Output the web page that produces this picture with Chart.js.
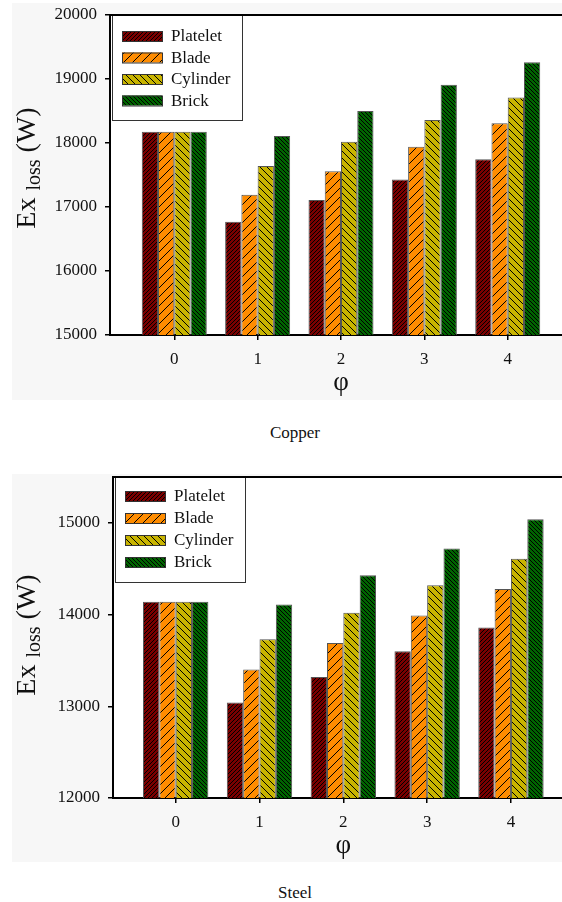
<!DOCTYPE html>
<html>
<head>
<meta charset="utf-8">
<script src="https://cdn.jsdelivr.net/npm/chart.js@4.4.1/dist/chart.umd.min.js"></script>
<style>
  body { margin: 0; background: #fff; width: 562px; height: 902px; position: relative; overflow: hidden; font-family: "Liberation Serif", serif; }
  .panel { position: absolute; left: 12px; width: 550px; background: #f7f7f7; }
  .cap { position: absolute; left: 0; width: 590px; text-align: center; font-size: 17px; color: #111; line-height: 20px; }
</style>
</head>
<body>
<div class="panel" style="top:3px;height:397px"><canvas id="copper" width="550" height="397"></canvas></div>
<div class="cap" style="top:423px">Copper</div>
<div class="panel" style="top:474px;height:388px"><canvas id="steel" width="550" height="388"></canvas></div>
<div class="cap" style="top:883px">Steel</div>
<script>
// values
const phi = [0, 1, 2, 3, 4];
const names = ['Platelet', 'Blade', 'Cylinder', 'Brick'];

const copperPlatelet = [18175, 16770, 17110, 17430, 17745];
const copperBlade    = [18175, 17190, 17560, 17940, 18310];
const copperCylinder = [18175, 17640, 18020, 18360, 18710];
const copperBrick    = [18175, 18110, 18500, 18910, 19260];
const copperTicks    = [15000, 16000, 17000, 18000, 19000, 20000];

const steelPlatelet  = [14140, 13040, 13320, 13600, 13860];
const steelBlade     = [14140, 13400, 13690, 13990, 14280];
const steelCylinder  = [14140, 13730, 14020, 14320, 14610];
const steelBrick     = [14140, 14110, 14430, 14720, 15040];
const steelTicks     = [12000, 13000, 14000, 15000];

const serif = '"Liberation Serif", "Times New Roman", serif';

// hatched fills, '/' when dir > 0, '\' otherwise
function hatch(bg, gap, dir) {
  const c = document.createElement('canvas');
  c.width = gap; c.height = gap;
  const g = c.getContext('2d');
  g.fillStyle = bg;
  g.fillRect(0, 0, gap, gap);
  g.strokeStyle = '#000';
  g.lineWidth = 1;
  g.beginPath();
  if (dir > 0) {
    g.moveTo(-1, gap + 1); g.lineTo(gap + 1, -1);
    g.moveTo(-1, 1); g.lineTo(1, -1);
    g.moveTo(gap - 1, gap + 1); g.lineTo(gap + 1, gap - 1);
  } else {
    g.moveTo(-1, -1); g.lineTo(gap + 1, gap + 1);
    g.moveTo(gap - 1, -1); g.lineTo(gap + 1, 1);
    g.moveTo(-1, gap - 1); g.lineTo(1, gap + 1);
  }
  g.stroke();
  return g.createPattern(c, 'repeat');
}

const fills = [
  hatch('#7a0000', 4, 1),
  hatch('#ff8c00', 9, 1),
  hatch('#c8b400', 7, -1),
  hatch('#006400', 4, -1)
];

const decor = {
  id: 'decor',
  beforeDraw(chart) {
    const { ctx, chartArea: a } = chart;
    ctx.save();
    ctx.fillStyle = '#fff';
    ctx.fillRect(a.left, a.top, a.right - a.left, a.bottom - a.top);
    ctx.restore();
  },
  afterDraw(chart, args, opts) {
    const { ctx, chartArea: a } = chart;
    ctx.save();

    // legend box
    const lx = a.left + 2, ly = a.top, lw = 130, lh = opts.legendH;
    ctx.fillStyle = '#fff';
    ctx.fillRect(lx, ly, lw, lh);
    ctx.strokeStyle = '#333';
    ctx.lineWidth = 1;
    ctx.strokeRect(lx + 0.5, ly + 0.5, lw, lh);
    ctx.font = '17px ' + serif;
    ctx.textBaseline = 'middle';
    ctx.textAlign = 'left';
    chart.data.datasets.forEach((ds, i) => {
      const cy = ly + opts.legendY0 + i * opts.legendStep;
      ctx.fillStyle = ds.backgroundColor;
      ctx.fillRect(lx + 10, cy - 5, 40, 10);
      ctx.strokeStyle = '#333';
      ctx.strokeRect(lx + 10.5, cy - 4.5, 40, 10);
      ctx.fillStyle = '#111';
      ctx.fillText(ds.label, lx + 59, cy + 1);
    });

    // top frame line
    ctx.strokeStyle = '#000';
    ctx.lineWidth = 2;
    ctx.beginPath();
    ctx.moveTo(a.left - 1, a.top);
    ctx.lineTo(a.right, a.top);
    ctx.stroke();

    // x title
    ctx.fillStyle = '#111';
    ctx.textAlign = 'center';
    ctx.font = '27px ' + serif;
    ctx.fillText('φ', chart.scales.x.getPixelForValue(2), a.bottom + 48);

    // y title with subscript
    ctx.translate(23, opts.yTitleY);
    ctx.rotate(-Math.PI / 2);
    ctx.textAlign = 'left';
    ctx.textBaseline = 'alphabetic';
    const big = '28px ' + serif, small = '20px ' + serif;
    ctx.font = big; const w1 = ctx.measureText('Ex ').width;
    ctx.font = small; const w2 = ctx.measureText('loss').width;
    ctx.font = big; const w3 = ctx.measureText(' (W)').width;
    let u = -(w1 + w2 + w3) / 2;
    ctx.font = big; ctx.fillText('Ex ', u, 0); u += w1;
    ctx.font = small; ctx.fillText('loss', u, 5); u += w2;
    ctx.font = big; ctx.fillText(' (W)', u, 0);
    ctx.restore();
  }
};

function makeChart(id, series, yTicks, cfg) {
  new Chart(document.getElementById(id), {
    type: 'bar',
    data: {
      datasets: series.map((vals, i) => ({
        label: names[i],
        data: phi.map((p, j) => ({ x: p, y: vals[j] })),
        backgroundColor: fills[i],
        borderColor: '#555',
        borderWidth: 1,
        categoryPercentage: 0.78,
        barPercentage: 1
      }))
    },
    options: {
      responsive: false,
      animation: false,
      layout: { padding: { top: cfg.padTop, left: 0, right: 0, bottom: 0 } },
      plugins: {
        legend: { display: false },
        tooltip: { enabled: false },
        decor: { legendH: 105, legendY0: cfg.legY0, legendStep: cfg.legStep, yTitleY: cfg.yTitleY }
      },
      scales: {
        x: {
          type: 'linear', offset: false,
          min: cfg.xMin, max: cfg.xMax,
          afterBuildTicks(s) { s.ticks = phi.map(v => ({ value: v })); },
          ticks: { color: '#111', padding: 9, font: { family: serif, size: 17 } },
          grid: { offset: false, drawOnChartArea: false, tickLength: 5, color: '#000', lineWidth: 1.5 },
          border: { color: '#000', width: 2 },
          afterFit(s) { s.height = cfg.xHeight; s.paddingLeft = 0; s.paddingRight = 0; }
        },
        y: {
          min: yTicks[0], max: cfg.yMax,
          afterBuildTicks(s) { s.ticks = yTicks.map(v => ({ value: v })); },
          ticks: { color: '#111', padding: 8, font: { family: serif, size: 17 }, callback: v => String(v) },
          grid: { drawOnChartArea: false, tickLength: 5, color: '#000', lineWidth: 1.5 },
          border: { color: '#000', width: 2 },
          afterFit(s) { s.width = cfg.yWidth; s.paddingTop = 0; s.paddingBottom = 0; }
        }
      }
    },
    plugins: [decor]
  });
}

makeChart('copper', [copperPlatelet, copperBlade, copperCylinder, copperBrick], copperTicks, {
  padTop: 12, yWidth: 98, xHeight: 65, yMax: 20000,
  xMin: -0.771, xMax: 4.651, legY0: 21, legStep: 21.5, yTitleY: 165
});
makeChart('steel', [steelPlatelet, steelBlade, steelCylinder, steelBrick], steelTicks, {
  padTop: 3, yWidth: 101, xHeight: 64, yMax: 15500,
  xMin: -0.748, xMax: 4.609, legY0: 19, legStep: 22, yTitleY: 161
});
</script>
</body>
</html>
